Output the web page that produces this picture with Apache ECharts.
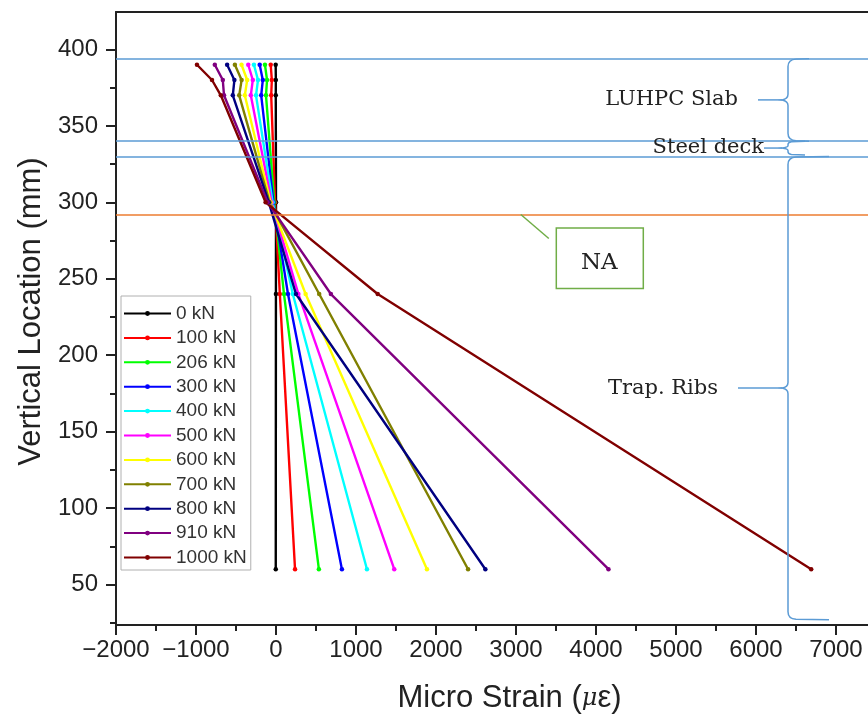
<!DOCTYPE html>
<html>
<head>
<meta charset="utf-8">
<script src="https://cdn.jsdelivr.net/npm/echarts@6/dist/echarts.min.js"></script>
<style>
  html, body { margin: 0; padding: 0; background: #ffffff; }
  #chart { width: 868px; height: 717px; }
</style>
</head>
<body>
<div id="chart"></div>
<script>
// Strain gauge heights above the beam soffit (mm)
const gaugeHeights = [390, 380, 370, 300, 240, 60];

// Load steps
const loadNames = ['0 kN', '100 kN', '206 kN', '300 kN', '400 kN', '500 kN',
                   '600 kN', '700 kN', '800 kN', '910 kN', '1000 kN'];

// Micro strain at each gauge height, one array per load step
const strain0    = [-4, -2, -3, 0, -1, -3];
const strain100  = [-66, -52, -60, -12, 48, 238];
const strain206  = [-138, -112, -125, -22, 100, 536];
const strain300  = [-204, -165, -185, -32, 150, 824];
const strain400  = [-276, -225, -250, -42, 210, 1137];
const strain500  = [-347, -290, -315, -55, 280, 1478];
const strain600  = [-431, -360, -390, -68, 370, 1887];
const strain700  = [-514, -430, -460, -80, 540, 2401];
const strain800  = [-611, -520, -540, -90, 250, 2617];
const strain910  = [-765, -665, -650, -105, 686, 4156];
const strain1000 = [-988, -800, -690, -130, 1271, 6690];

const strainByLoad = [strain0, strain100, strain206, strain300, strain400, strain500,
                      strain600, strain700, strain800, strain910, strain1000];

// Section layers (top and bottom height, mm) and the neutral axis
const layerNames   = ['LUHPC Slab', 'Steel deck', 'Trap. Ribs'];
const layerTops    = [394, 340, 330];
const layerBottoms = [340, 331, 27];
const boundaryLines = [394, 340, 330];
const neutralAxis = 292;

// Axis ticks
const xTickValues = [-2000, -1000, 0, 1000, 2000, 3000, 4000, 5000, 6000, 7000];
const xMinorValues = [-1500, -500, 500, 1500, 2500, 3500, 4500, 5500, 6500];
const yTickValues = [50, 100, 150, 200, 250, 300, 350, 400];
const yMinorValues = [25, 75, 125, 175, 225, 275, 325, 375, 425];

const lineColors = ['#000000', '#ff0000', '#00ff00', '#0000ff', '#00ffff', '#ff00ff',
                    '#ffff00', '#808000', '#000080', '#800080', '#800000'];

const SANS = 'Liberation Sans, Arial, sans-serif';
const SERIF = 'DejaVu Serif, serif';
const BRACE_X = 6400;   // strain value at which the layer braces are drawn
const NA_TAG_X = 3060;  // strain value where the NA tag leader starts

const chart = echarts.init(document.getElementById('chart'), null, { renderer: 'canvas' });

const loadSeries = loadNames.map((name, i) => ({
  name: name,
  type: 'line',
  xAxisIndex: 0,
  yAxisIndex: 0,
  data: gaugeHeights.map((h, k) => [strainByLoad[i][k], h]),
  color: lineColors[i],
  lineStyle: { width: 2.4, color: lineColors[i] },
  itemStyle: { color: lineColors[i] },
  symbol: 'circle',
  symbolSize: 4.5,
  showSymbol: true,
  z: 3
}));

const boundarySeries = {
  name: 'boundaries',
  type: 'line',
  data: [],
  silent: true,
  z: 4,
  markLine: {
    silent: true,
    symbol: 'none',
    label: { show: false },
    animation: false,
    data: boundaryLines.map(v => ({ yAxis: v, lineStyle: { color: '#5b9bd5', width: 1.5, type: 'solid' } }))
      .concat([{ yAxis: neutralAxis, lineStyle: { color: '#ed7d31', width: 1.5, type: 'solid' } }])
  }
};

// Curly braces marking each layer, with a leader and the layer name
const braceTips = [21, 17, 41];
const leaderStart = [30, 24, 50];
const labelRight = [50, 24, 70];
const braceSeries = {
  type: 'custom',
  silent: true,
  z: 5,
  data: layerNames.map((n, i) => [layerTops[i], layerBottoms[i], i]),
  renderItem: function (params, api) {
    const i = api.value(2);
    const top = api.coord([BRACE_X, api.value(0)]);
    const bot = api.coord([BRACE_X, api.value(1)]);
    const x0 = top[0], yT = top[1], yB = bot[1];
    const yM = (yT + yB) / 2;
    const w = braceTips[i];
    const h = yB - yT;
    const r = Math.min(8, h / 4);
    const n = 6;
    const path =
      'M' + (x0 + w) + ',' + yT +
      ' L' + (x0 + r) + ',' + (yT + 0.5) +
      ' Q' + x0 + ',' + (yT + 1) + ' ' + x0 + ',' + (yT + r) +
      ' L' + x0 + ',' + (yM - r * 0.7) +
      ' Q' + x0 + ',' + (yM - 1) + ' ' + (x0 - n) + ',' + yM +
      ' Q' + x0 + ',' + (yM + 1) + ' ' + x0 + ',' + (yM + r * 0.7) +
      ' L' + x0 + ',' + (yB - r) +
      ' Q' + x0 + ',' + (yB - 1) + ' ' + (x0 + r) + ',' + (yB - 0.5) +
      ' L' + (x0 + w) + ',' + yB;
    return {
      type: 'group',
      children: [
        {
          type: 'path',
          shape: { pathData: path },
          style: { fill: 'none', stroke: '#5b9bd5', lineWidth: 1.5 }
        },
        {
          type: 'line',
          shape: { x1: x0 - leaderStart[i], y1: yM, x2: x0 - n, y2: yM },
          style: { stroke: '#5b9bd5', lineWidth: 1.5 }
        },
        {
          type: 'text',
          style: {
            text: layerNames[i],
            x: x0 - labelRight[i],
            y: yM - (i === 1 ? 1 : 0),
            align: 'right',
            verticalAlign: 'middle',
            font: '21px ' + SERIF,
            fill: '#222222'
          }
        }
      ]
    };
  }
};

// Neutral axis tag
const naSeries = {
  type: 'custom',
  silent: true,
  z: 5,
  data: [[NA_TAG_X, neutralAxis]],
  renderItem: function (params, api) {
    const p = api.coord([api.value(0), api.value(1)]);
    return {
      type: 'group',
      children: [
        {
          type: 'line',
          shape: { x1: p[0], y1: p[1], x2: p[0] + 28, y2: p[1] + 24 },
          style: { stroke: '#70ad47', lineWidth: 1.5 }
        },
        {
          type: 'rect',
          shape: { x: p[0] + 35.5, y: p[1] + 13.5, width: 87, height: 60.5 },
          style: { fill: '#ffffff', stroke: '#70ad47', lineWidth: 1.5 }
        },
        {
          type: 'text',
          style: {
            text: 'NA',
            x: p[0] + 78.5,
            y: p[1] + 48,
            align: 'center',
            verticalAlign: 'middle',
            font: '23px ' + SERIF,
            fill: '#222222'
          }
        }
      ]
    };
  }
};

const option = {
  animation: false,
  backgroundColor: '#ffffff',
  grid: { left: 116, right: 0, top: 12, bottom: 92, containLabel: false, outerBoundsMode: 'none' },
  legend: {
    data: loadNames,
    orient: 'vertical',
    left: 121,
    top: 296,
    itemWidth: 47,
    itemHeight: 6,
    itemGap: 5.4,
    padding: [8, 4, 3, 2],
    borderColor: '#b0b0b0',
    borderWidth: 1,
    backgroundColor: '#ffffff',
    selectedMode: false,
    textStyle: { fontFamily: SANS, fontSize: 19, lineHeight: 18, color: '#333333' }
  },
  xAxis: [
    {
      type: 'value',
      position: 'bottom',
      min: -2000,
      max: 7400,
      nameLocation: 'middle',
      nameGap: 58,
      nameTextStyle: { fontFamily: SANS, fontSize: 31, color: '#222222', padding: [0, 0, 0, 35] },
      axisLine: { show: true, onZero: false, lineStyle: { color: '#222222', width: 2 } },
      axisTick: { show: true, customValues: xTickValues, length: 10, inside: false, lineStyle: { color: '#222222', width: 2 } },
      axisLabel: {
        customValues: xTickValues,
        fontFamily: SANS, fontSize: 24, color: '#222222', margin: 13,
        formatter: v => (v < 0 ? '\u2212' + Math.abs(v) : String(v))
      },
      splitLine: { show: false }
    },
    {
      type: 'value',
      position: 'bottom',
      min: -2000,
      max: 7400,
      axisLine: { show: false, onZero: false },
      axisTick: { show: true, customValues: xMinorValues, length: 6, lineStyle: { color: '#222222', width: 2 } },
      axisLabel: { show: false },
      splitLine: { show: false }
    },
    {
      type: 'value',
      position: 'top',
      min: -2000,
      max: 7400,
      axisLine: { show: true, onZero: false, lineStyle: { color: '#222222', width: 2 } },
      axisTick: { show: false },
      axisLabel: { show: false },
      splitLine: { show: false }
    }
  ],
  yAxis: [
    {
      type: 'value',
      position: 'left',
      min: 23.5,
      max: 424.5,
      name: 'Vertical Location (mm)',
      nameLocation: 'middle',
      nameGap: 66,
      nameTextStyle: { fontFamily: SANS, fontSize: 31, color: '#222222', padding: [0, 0, 0, 14] },
      axisLine: { show: true, onZero: false, lineStyle: { color: '#222222', width: 2 } },
      axisTick: { show: true, customValues: yTickValues, length: 10, lineStyle: { color: '#222222', width: 2 } },
      axisLabel: { customValues: yTickValues, fontFamily: SANS, fontSize: 24, color: '#222222', margin: 18 },
      splitLine: { show: false }
    },
    {
      type: 'value',
      position: 'left',
      min: 23.5,
      max: 424.5,
      axisLine: { show: false, onZero: false },
      axisTick: { show: true, customValues: yMinorValues, length: 6, lineStyle: { color: '#222222', width: 2 } },
      axisLabel: { show: false },
      splitLine: { show: false }
    }
  ],
  series: loadSeries.concat([boundarySeries, braceSeries, naSeries])
};

// Axis title with the Greek strain symbol set in italic
option.xAxis[0].name = '{n|Micro Strain (}{g|\u03bc}{n|\u03b5)}';
option.xAxis[0].nameTextStyle.rich = {
  n: { fontFamily: SANS, fontSize: 31, color: '#222222' },
  g: { fontFamily: 'DejaVu Serif, serif', fontStyle: 'italic', fontSize: 24, color: '#222222' }
};

chart.setOption(option);
</script>
</body>
</html>
